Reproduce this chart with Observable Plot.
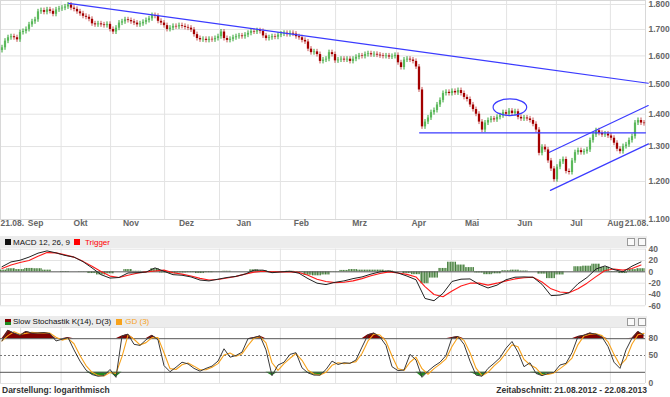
<!DOCTYPE html>
<html><head><meta charset="utf-8">
<script src="https://cdn.jsdelivr.net/npm/d3@7"></script>
<script src="https://cdn.jsdelivr.net/npm/@observablehq/plot@0.6"></script>
<style>
body{margin:0;background:#fff;font-family:"Liberation Sans",Arial,sans-serif;}
#root{position:relative;width:670px;height:397px;overflow:hidden;background:#fff;}
#root svg{position:absolute;left:0;overflow:visible;}
.hdr{position:absolute;left:0;width:647px;background:#ececec;font-size:8px;color:#111;white-space:nowrap;display:flex;align-items:center;padding-left:5px;box-sizing:border-box;}
.sq{display:inline-block;width:6px;height:6px;flex:none;}
.btn{position:absolute;width:6px;height:6px;border:1px solid #9a9a9a;background:#fafafa;top:2px;}
.foot{position:absolute;top:385px;font-size:8.5px;font-weight:bold;color:#333;white-space:nowrap;}
</style></head><body><div id="root"></div><script>
// ---- DATA (gold, daily sessions 21.08.2012 - 22.08.2013) ----
const firstOpen = 1620;
const closes = [
1630,1655,1668,1672,1668,1660,1688,1692,1700,1718,
1730,1738,1770,1775,1768,1778,1772,1760,1778,1782,
1785,1790,1798,1785,1780,1770,1762,1752,1748,1740,
1722,1718,1722,1718,1715,1720,1700,1690,1705,1725,
1730,1738,1735,1730,1725,1718,1722,1728,1735,1742,
1755,1752,1732,1725,1715,1700,1705,1712,1710,1715,
1712,1708,1705,1698,1680,1665,1660,1662,1658,1662,
1660,1665,1672,1690,1665,1658,1662,1668,1672,1675,
1672,1678,1685,1692,1690,1695,1692,1675,1665,1668,
1672,1670,1678,1682,1685,1680,1685,1682,1672,1668,
1658,1652,1625,1612,1615,1605,1580,1585,1588,1612,
1605,1582,1585,1588,1585,1588,1580,1588,1595,1600,
1598,1605,1608,1604,1606,1603,1600,1598,1600,1596,
1598,1602,1575,1558,1585,1588,1585,1580,1560,1480,
1360,1375,1388,1405,1412,1430,1445,1468,1472,1468,
1475,1470,1478,1468,1455,1448,1430,1415,1400,1375,
1350,1372,1380,1385,1382,1390,1395,1405,1400,1410,
1402,1408,1390,1385,1388,1385,1380,1368,1350,1280,
1298,1290,1258,1235,1205,1240,1255,1262,1228,1225,
1258,1282,1288,1282,1285,1290,1318,1335,1348,1340,
1335,1338,1332,1325,1310,1292,1285,1300,1305,1318,
1330,1372,1380,1372,1370];
const priceTicks = [1100,1200,1300,1400,1500,1600,1700,1800];
// month boundaries and label positions, in session index units
const monthStarts = [6.2,19.7,36.2,54.2,72.5,92.8,111.2,131.5,149.8,168.2,184.8,202.8];
const monthNames = ["Sep","Okt","Nov","Dez","Jan","Feb","Mrz","Apr","Mai","Jun","Jul","Aug"];
const monthLabelPos = [11.2,26.2,43,61.5,80.6,99.8,119.2,138.9,156.7,174.3,191.5,204.5];
const edgeLabel = "21.08.";
// drawn annotations: [session index, price]
const trendLines = [
  [[22.2,1805],[215.4,1503]],
  [[139.2,1341.5],[214.5,1341.5]],
  [[182.5,1283],[215.4,1428]],
  [[182.8,1176],[215.5,1308]]
];
const ellipseCenter = [169.3,1422.5];
// MACD 12,26,9 and trigger, sampled every 3rd session
const macdLine = [9,17.5,20.5,26,33,37,33.5,29,26,18,7,-5,-11,-10,-2,-1.5,-0.5,7,1,-5,
-6,-9,-14.5,-16,-13,-10,-8,-4,3,3,-1.5,0,1,-2.5,-12,-20,-22.5,-18.5,-16,-12,
-9,-4,0,1.5,-2,-7.5,-14,-47,-51,-38,-17,-13,-12.5,-22,-28.5,-23.5,-14,-9.5,-9,-9.5,
-22,-42,-41,-37,-21,-10,5,10.5,4,0,10,17.5];
const triggerLine = [6,12,16.5,20,27.5,34,33.5,30,26,18.5,10,0.5,-7.5,-10,-6,-2.5,0,1.5,3,-1.5,
-4,-7.5,-11.5,-14.5,-13.5,-11,-8,-4,-0.5,1,0,0,0,-1,-6,-13,-17,-19,-18.5,-16,
-12,-7,-3,0,-2,-4.5,-9,-26,-40,-44,-34,-25,-20,-20,-23.5,-20,-16,-12.5,-10.5,-9.5,
-18,-30,-35.5,-37,-30,-20,-8.5,2.5,5,3,6,12];
const macdTicks = [-60,-40,-20,0,20,40];
// Slow stochastic %K(14), sampled every 2nd session; %D is drawn as its running mean
const stochK = [76,95,90,86,93,90,90,91,89,76,79,82,60,40,24,16,13,14,25,11,
85,88,70,68,78,86,78,32,21,29,38,35,27,22,27,31,40,62,47,50,
56,80,82,85,60,14,33,38,52,55,28,19,15,15,25,40,34,37,36,42,
65,87,90,83,68,30,23,24,52,42,11,22,31,38,50,82,84,70,40,15,
13,27,36,46,63,75,56,30,37,18,14,18,20,33,36,55,84,86,90,88,
83,66,38,27,60,81,93,86];
const stochTicks = [0,50,80];

// ---- BUILD ----
const root = document.getElementById("root");
const font = "Liberation Sans, Arial, sans-serif";
const xScale = {domain:[-0.5,214.5], axis:null};
const deFmt = d => d.toLocaleString("de-DE");

const candles = closes.map((c,i)=>{
  const o = i ? closes[i-1] : firstOpen;
  return {i, lo: Math.min(o,c), hi: Math.max(o,c), up: c >= o};
});
const ups = candles.filter(d=>d.up), downs = candles.filter(d=>!d.up);
const trendRows = trendLines.flatMap((seg,id)=>seg.map(([i,p])=>({id,i,p})));
const labelRows = monthNames.map((t,k)=>({t, x: monthLabelPos[k]}));
const axisText = {fill:"#666", fontWeight:"bold", fontSize:8.5};

const main = Plot.plot({
  width:670, height:232, marginLeft:0, marginRight:25, marginTop:0, marginBottom:13,
  style:{background:"transparent", overflow:"visible", fontFamily:font},
  x: xScale,
  y:{type:"log", domain:[1100,1800], range:[219,4], axis:null},
  marks:[
    Plot.ruleY(priceTicks,{stroke:"#e3e3e3"}),
    Plot.ruleX(monthStarts,{stroke:"#e3e3e3"}),
    Plot.frame({stroke:"#d8d8d8"}),
    Plot.ruleX(ups,{x:"i", y1:"hi", y2:"lo", stroke:"#92d692", strokeWidth:2.3}),
    Plot.ruleX(ups,{x:"i", y1:"hi", y2:"lo", insetTop:-2.5, insetBottom:-2.5, stroke:"#1a961a", strokeWidth:0.9}),
    Plot.ruleX(downs,{x:"i", y1:"hi", y2:"lo", insetTop:-2.5, insetBottom:-2.5, stroke:"#c04040", strokeWidth:0.9}),
    Plot.ruleX(downs,{x:"i", y1:"hi", y2:"lo", stroke:"#a30000", strokeWidth:2.3}),
    Plot.line(trendRows,{x:"i", y:"p", z:"id", stroke:"#3b3bff", strokeWidth:1.2}),
    Plot.dot([ellipseCenter],{x:d=>d[0], y:d=>d[1], r:8.3, stroke:"#3b3bff", strokeWidth:1.2, fill:"none"}),
    Plot.text(priceTicks,{y:d=>d, text:deFmt, frameAnchor:"right", textAnchor:"start", dx:3, ...axisText}),
    Plot.text(labelRows,{x:"x", text:"t", frameAnchor:"bottom", dy:6.5, ...axisText}),
    Plot.text([edgeLabel],{x:-0.5, text:d=>d, frameAnchor:"bottom", dy:6.5, textAnchor:"start", ...axisText}),
    Plot.text([edgeLabel],{x:215.5, text:d=>d, frameAnchor:"bottom", dy:6.5, textAnchor:"end", ...axisText})
  ]
});
main.style.top = "0px";
// turn the circle into the hand-drawn ellipse
const circ = main.querySelector("circle");
if (circ) {
  const e = document.createElementNS("http://www.w3.org/2000/svg","ellipse");
  let cx = circ.getAttribute("cx"), cy = circ.getAttribute("cy");
  if (cx == null) { const m = /translate\(([-\d.]+),\s*([-\d.]+)\)/.exec(circ.getAttribute("transform")||""); if (m) {cx=m[1]; cy=m[2];} }
  e.setAttribute("cx", cx); e.setAttribute("cy", cy);
  e.setAttribute("rx", 16.8); e.setAttribute("ry", 8.3);
  circ.replaceWith(e);
}
root.appendChild(main);

// MACD panel
const macdRows = macdLine.map((m,k)=>({i:3*k, m, t:triggerLine[k], h:m-triggerLine[k]}));
const macd = Plot.plot({
  width:670, height:70, marginLeft:0, marginRight:25, marginTop:0, marginBottom:0,
  style:{background:"transparent", overflow:"visible", fontFamily:font},
  x: xScale,
  y:{domain:[-60,40], range:[65.3,8.7], axis:null},
  marks:[
    Plot.ruleY(macdTicks.filter(t=>t!==0),{stroke:"#e3e3e3"}),
    Plot.ruleX(monthStarts,{y1:-60, y2:40, stroke:"#e3e3e3"}),
    Plot.ruleX([-0.5,214.5],{y1:-60, y2:40, stroke:"#d8d8d8"}),
    Plot.rect(macdRows,{x1:d=>d.i-1.5, x2:d=>d.i+1.5, y1:0, y2:"h", fill:"url(#hatch)"}),
    Plot.ruleY([0],{stroke:"#555"}),
    Plot.line(macdRows,{x:"i", y:"t", stroke:"#ff1a1a", strokeWidth:1.1}),
    Plot.line(macdRows,{x:"i", y:"m", stroke:"#222", strokeWidth:1}),
    Plot.text(macdTicks,{y:d=>d, text:d=>String(d), frameAnchor:"right", textAnchor:"start", dx:3, ...axisText})
  ]
});
const defs = document.createElementNS("http://www.w3.org/2000/svg","defs");
defs.innerHTML = '<pattern id="hatch" width="2.6" height="4" patternUnits="userSpaceOnUse"><rect width="2.6" height="4" fill="#a7c3a0"/><rect width="1.1" height="4" fill="#3f7a38"/></pattern>';
macd.prepend(defs);
macd.style.top = "240px";
root.appendChild(macd);

// Stochastic panel
const stochRows = stochK.map((k,j)=>({i:2*j, k}));
const stoch = Plot.plot({
  width:670, height:72, marginLeft:0, marginRight:25, marginTop:0, marginBottom:0,
  style:{background:"transparent", overflow:"visible", fontFamily:font},
  x: xScale,
  y:{domain:[0,100], range:[63,7], axis:null},
  marks:[
    Plot.ruleY([0,100],{stroke:"#e3e3e3"}),
    Plot.ruleX(monthStarts,{y1:0, y2:100, stroke:"#e3e3e3"}),
    Plot.ruleX([-0.5,214.5],{y1:0, y2:100, stroke:"#d8d8d8"}),
    Plot.area(stochRows,{x1:"i", y1:80, y2:d=>Math.max(80,d.k), fill:"#800000"}),
    Plot.area(stochRows,{x1:"i", y1:d=>Math.min(20,d.k), y2:20, fill:"#1f8a1f"}),
    Plot.ruleY([80,20],{stroke:"#555"}),
    Plot.ruleY([50],{stroke:"#777", strokeDasharray:"2,2"}),
    Plot.lineY(stochRows, Plot.windowY({k:2, anchor:"end"}, {x:"i", y:"k", stroke:"#f7a21b", strokeWidth:1.1})),
    Plot.line(stochRows,{x:"i", y:"k", stroke:"#3a3a3a", strokeWidth:1}),
    Plot.text(stochTicks,{y:d=>d, text:d=>String(d), frameAnchor:"right", textAnchor:"start", dx:3, ...axisText})
  ]
});
stoch.style.top = "320px";
root.appendChild(stoch);

// panel headers and footer
function header(top, h, parts) {
  const d = document.createElement("div");
  d.className = "hdr"; d.style.top = top+"px"; d.style.height = h+"px";
  d.innerHTML = parts + '<div class="btn" style="left:627px"></div><div class="btn" style="left:638px"></div>';
  root.appendChild(d);
}
header(236, 12,
  '<span class="sq" style="background:#111;margin-right:2px"></span><span>MACD 12, 26, 9</span>' +
  '<span class="sq" style="background:#f00;margin:0 5px 0 4px"></span><span style="color:#f00">Trigger</span>');
header(316, 11,
  '<span class="sq" style="background:linear-gradient(#800000 55%,#1f8a1f 55%);margin-right:2px"></span><span>Slow Stochastik K(14), D(3)</span>' +
  '<span class="sq" style="background:#f7a21b;margin:0 3px 0 5px"></span><span style="color:#f7a21b">GD (3)</span>');
const f1 = document.createElement("div"); f1.className="foot"; f1.style.left="2px"; f1.textContent="Darstellung: logarithmisch"; root.appendChild(f1);
const f2 = document.createElement("div"); f2.className="foot"; f2.style.right="23px"; f2.textContent="Zeitabschnitt: 21.08.2012 - 22.08.2013"; root.appendChild(f2);
</script></body></html>
